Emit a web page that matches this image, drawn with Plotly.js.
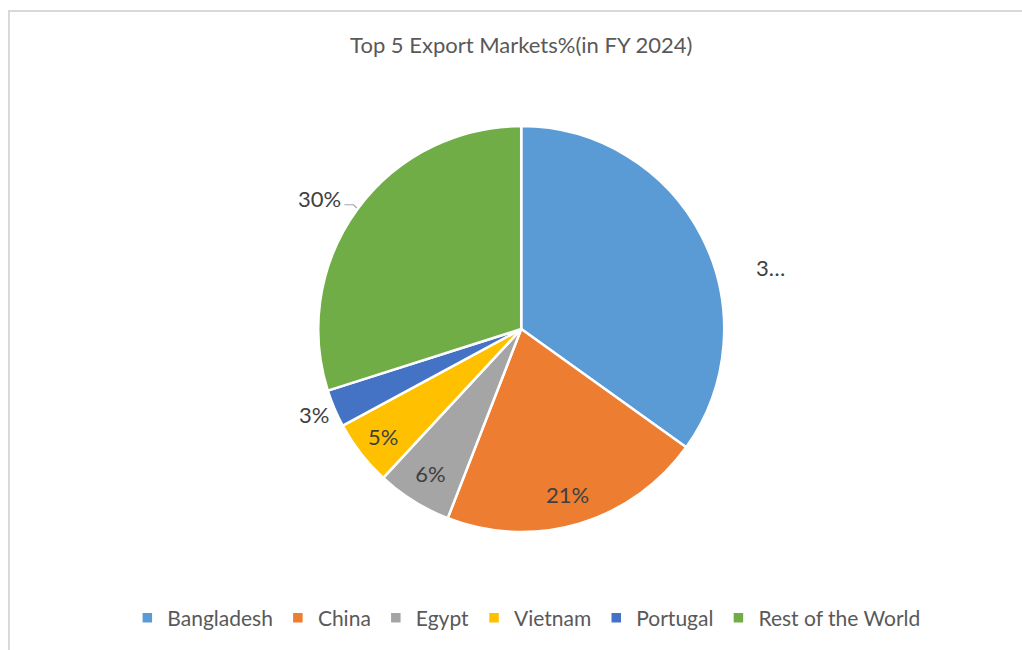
<!DOCTYPE html>
<html>
<head>
<meta charset="utf-8">
<script src="https://cdn.plot.ly/plotly-3.0.1.min.js"></script>
<style>
  html, body { margin: 0; padding: 0; background: #fff; }
  #frame { position: absolute; left: 8px; top: 10px; width: 1014px; height: 640px;
           border-top: 2px solid #d9d9d9; border-left: 2px solid #d9d9d9; box-sizing: border-box; }
  #chart { position: absolute; left: 0; top: 0; width: 1022px; height: 650px; }
</style>
</head>
<body>
<div id="frame"></div>
<div id="chart"></div>
<script>
const categories = ["Bangladesh", "China", "Egypt", "Vietnam", "Portugal", "Rest of the World"];
const shares = [34.9, 21.0, 6.0, 5.2, 3.0, 29.9];
const colors = ["#5B9BD5", "#ED7D31", "#A5A5A5", "#FFC000", "#4472C4", "#70AD47"];
const labelPlacement = ["free", "free", "inside", "inside", "free", "free"];

const total = shares.reduce((a, b) => a + b, 0);
const pctText = shares.map(v => Math.round(v / total * 100) + "%");
// Excel truncates the Bangladesh label
const shownText = pctText.map((t, i) => i === 0 ? t.charAt(0) + "\u2026" : t);

const font = "Lato, 'Open Sans', sans-serif";
const labelFont = { family: font, size: 22, color: "#404040" };

const trace = {
  type: "pie",
  labels: categories,
  values: shares,
  sort: false,
  direction: "clockwise",
  rotation: 0,
  marker: { colors: colors, line: { color: "#ffffff", width: 2.5 } },
  text: shownText,
  textinfo: "text",
  texttemplate: labelPlacement.map(p => p === "inside" ? "%{text}" : ""),
  textposition: labelPlacement.map(p => p === "inside" ? "inside" : "none"),
  insidetextfont: labelFont,
  insidetextorientation: "horizontal",
  hoverinfo: "label+percent",
  domain: { x: [0.2, 0.82], y: [0.1815, 0.806] }
};

// labels placed like Excel's best-fit positions
const freeAnchors = { 0: [0.754, 0.588], 1: [0.555, 0.24], 4: [0.307, 0.362], 5: [0.313, 0.695] };
const annotations = Object.keys(freeAnchors).map(k => ({
  xref: "paper", yref: "paper",
  x: freeAnchors[k][0], y: freeAnchors[k][1],
  xanchor: "center", yanchor: "middle",
  text: shownText[k], showarrow: false,
  font: labelFont
}));

const layout = {
  width: 1022, height: 650,
  margin: { l: 0, r: 0, t: 0, b: 0 },
  paper_bgcolor: "rgba(0,0,0,0)",
  plot_bgcolor: "rgba(0,0,0,0)",
  title: { text: "Top 5 Export Markets%(in FY 2024)", x: 0.51, xanchor: "center",
           y: 0.93, yanchor: "middle",
           font: { family: font, size: 22, color: "#595959" } },
  showlegend: true,
  legend: { orientation: "h", x: 0.515, xanchor: "center", y: 0.049, yanchor: "middle",
            font: { family: font, size: 21, color: "#595959" }, itemwidth: 30,
            traceorder: "normal" },
  annotations: annotations,
  shapes: [
    { type: "path", xref: "paper", yref: "paper",
      path: "M 0.337 0.685 L 0.346 0.685 L 0.349 0.680",
      line: { color: "#a6a6a6", width: 1.2 } }
  ]
};

Plotly.newPlot("chart", [trace], layout, { displayModeBar: false });
</script>
</body>
</html>
